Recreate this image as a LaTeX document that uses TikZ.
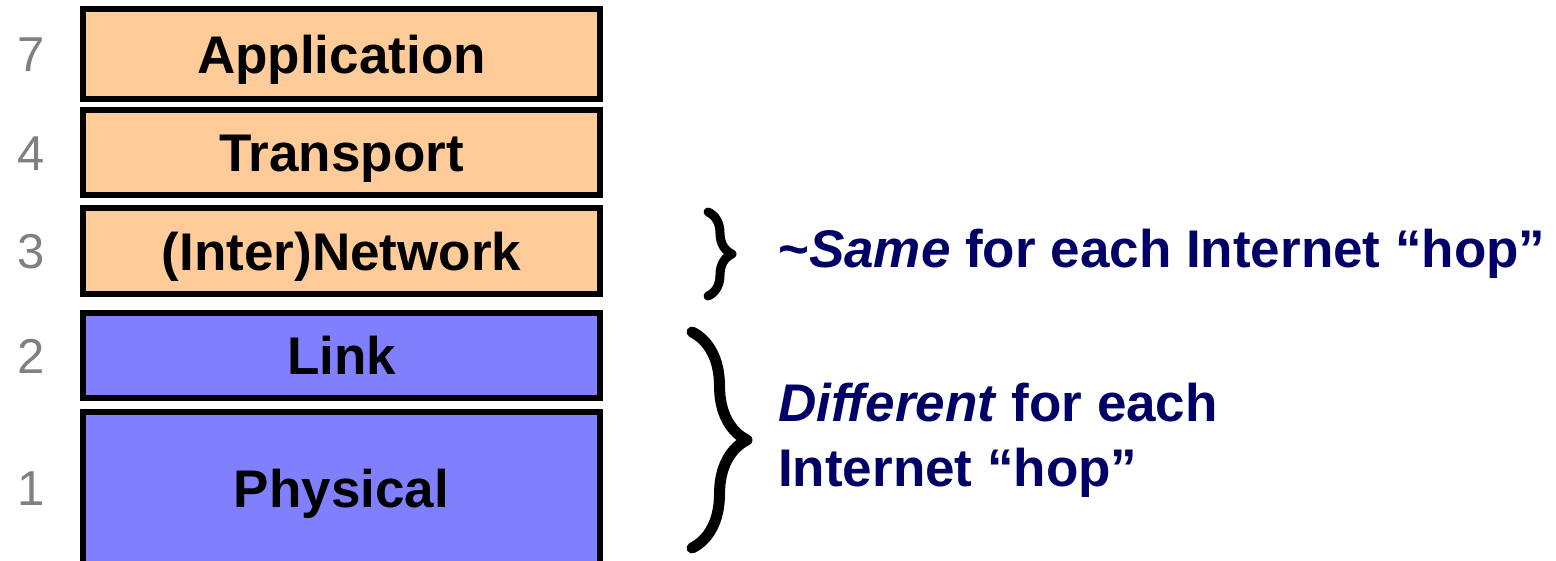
\documentclass[tikz,border=0pt]{standalone}
\usepackage{fontspec}
\setmainfont{Liberation Sans}
\usetikzlibrary{positioning,decorations.pathreplacing}

\definecolor{upperpeach}{RGB}{255,204,153}
\definecolor{lowerblue}{RGB}{128,128,255}
\definecolor{hopnavy}{RGB}{0,0,102}
\definecolor{numgray}{RGB}{128,128,128}

\begin{document}
\begin{tikzpicture}[
    x=1pt, y=-1pt,
    layer/.style={rectangle, draw=black, line width=6pt, minimum width=517pt, inner sep=0pt,
                  font=\fontsize{53}{60}\selectfont\bfseries, text height=38pt, text depth=0pt},
    upper/.style={layer, fill=upperpeach},
    lower/.style={layer, fill=lowerblue},
    num/.style={inner sep=0pt, text=numgray, font=\fontsize{49}{56}\selectfont, text height=35pt, text depth=0pt},
    hoptext/.style={inner sep=0pt, anchor=west, text=hopnavy, align=left,
                    font=\fontsize{53}{65}\selectfont\bfseries},
    hopbrace/.style={draw=black, line cap=round, line join=round, decorate}
]
\useasboundingbox (0,0) rectangle (1556,560);
\clip (0,0) rectangle (1556,560);

% Layer stack
\node[upper, minimum height=90pt] (app) at (341.5,54) {Application};
\node[upper, minimum height=85pt, below=5pt of app] (trans) {Transport};
\node[upper, minimum height=86pt, below=7pt of trans] (net) {(Inter)Network};
\node[lower, minimum height=85pt, below=13pt of net] (link) {Link};
\node[lower, minimum height=152pt, below=8pt of link] (phys) {Physical};

% Layer numbers
\node[num, left=35pt of app] {7};
\node[num, left=35pt of trans] {4};
\node[num, left=35pt of net] {3};
\node[num, left=35pt of link] {2};
\node[num, left=35pt of phys] {1};

% Braces
\coordinate (sametop) at (708,212);
\coordinate (samebot) at (708,296);
\coordinate (difftop) at (692,332);
\coordinate (diffbot) at (692,548);
\draw[hopbrace, line width=9pt, decoration={brace, amplitude=24pt}] (sametop) -- (samebot);
\draw[hopbrace, line width=11pt, decoration={brace, amplitude=55pt}] (difftop) -- (diffbot);

% Hop notes
\node[hoptext] (same) at (778,254) {\textasciitilde\textit{Same} for each Internet “hop”};
\node[hoptext] (diff) at (778,440) {\textit{Different} for each\\Internet “hop”};

\end{tikzpicture}
\end{document}
